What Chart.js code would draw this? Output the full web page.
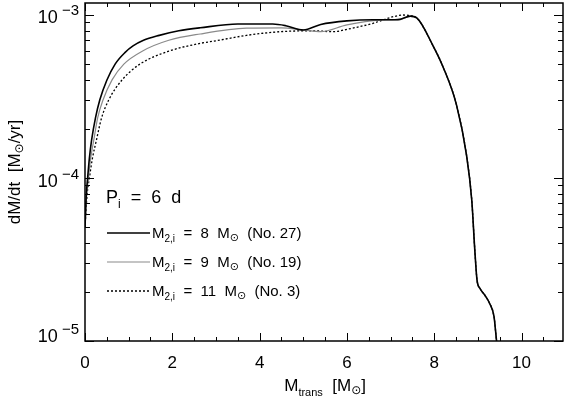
<!DOCTYPE html>
<html>
<head>
<meta charset="utf-8">
<script src="https://cdn.jsdelivr.net/npm/chart.js@4"></script>
<style>
  html, body { margin: 0; padding: 0; background: #fff; }
  #wrap { width: 565px; height: 396px; }
</style>
</head>
<body>
<div id="wrap"><canvas id="c" width="565" height="396"></canvas></div>
<script>
// transferred mass [Msun] and mass transfer rate [Msun/yr]
var mTrans8  = [0, 0.03, 0.06, 0.1, 0.15, 0.24, 0.34, 0.5, 0.69, 0.92, 1.1, 1.34, 1.7, 2.15, 2.64, 3.5, 4.3, 4.6, 5.0, 5.4, 6.0, 6.6, 7.1, 7.22, 7.45, 7.6, 7.97, 8.2, 8.51, 8.74, 8.86, 8.93, 8.98, 9.05, 9.16, 9.27, 9.37, 9.41, 9.43, 9.45];
var mdot8    = [5e-5, 7.9e-5, 1e-4, 1.32e-4, 1.7e-4, 2.34e-4, 3.02e-4, 3.98e-4, 5e-4, 5.9e-4, 6.46e-4, 7e-4, 7.5e-4, 8e-4, 8.35e-4, 8.8e-4, 8.8e-4, 8.6e-4, 8.1e-4, 8.75e-4, 9.2e-4, 9.35e-4, 9.35e-4, 9.4e-4, 9.85e-4, 9.6e-4, 6.5e-4, 4.82e-4, 2.81e-4, 1.38e-4, 7.3e-5, 3.6e-5, 2.37e-5, 2.1e-5, 1.91e-5, 1.7e-5, 1.41e-5, 1.12e-5, 9.9e-6, 9e-6];

var mTrans9  = [0, 0.04, 0.08, 0.13, 0.2, 0.29, 0.41, 0.62, 0.89, 1.31, 1.92, 2.64, 3.7, 4.5, 5.0, 5.4, 6.0, 6.77, 7.22, 7.45, 7.6, 7.97, 8.2, 8.51, 8.74, 8.86, 8.93, 8.98, 9.05, 9.16, 9.27, 9.37, 9.41, 9.43, 9.45];
var mdot9    = [5e-5, 8e-5, 1e-4, 1.32e-4, 1.7e-4, 2.34e-4, 3e-4, 4e-4, 5e-4, 6e-4, 7e-4, 7.65e-4, 8.3e-4, 8.35e-4, 8.1e-4, 7.9e-4, 8.7e-4, 9.3e-4, 9.4e-4, 9.8e-4, 9.6e-4, 6.5e-4, 4.82e-4, 2.81e-4, 1.38e-4, 7.3e-5, 3.6e-5, 2.37e-5, 2.1e-5, 1.91e-5, 1.7e-5, 1.41e-5, 1.12e-5, 9.9e-6, 9e-6];

var mTrans11 = [0, 0.05, 0.1, 0.17, 0.26, 0.38, 0.54, 0.85, 1.26, 1.92, 2.64, 3.0, 3.7, 4.47, 5.23, 5.69, 6.0, 6.6, 7.06, 7.3, 7.45, 7.6, 7.97, 8.2, 8.51, 8.74, 8.86, 8.93, 8.98, 9.05, 9.16, 9.27, 9.37, 9.41, 9.43, 9.46];
var mdot11   = [5e-5, 8e-5, 1e-4, 1.32e-4, 1.7e-4, 2.34e-4, 3e-4, 4e-4, 5e-4, 6e-4, 6.7e-4, 6.95e-4, 7.5e-4, 7.9e-4, 8.0e-4, 7.9e-4, 8.17e-4, 8.9e-4, 9.76e-4, 1.0e-3, 9.9e-4, 9.6e-4, 6.5e-4, 4.82e-4, 2.81e-4, 1.38e-4, 7.3e-5, 3.6e-5, 2.37e-5, 2.1e-5, 1.91e-5, 1.7e-5, 1.41e-5, 1.12e-5, 9.9e-6, 9e-6];

var xTicks = [0, 2, 4, 6, 8, 10];
var yDecades = [-5, -4, -3];

var FONT = "'Liberation Sans', 'DejaVu Sans', sans-serif";

function pts(xs, ys) {
  var out = [];
  for (var i = 0; i < xs.length; i++) out.push({x: xs[i], y: ys[i]});
  return out;
}

// draw a run of text pieces: [text, size, dy]
function rich(ctx, parts, x, y, align) {
  var w = 0;
  parts.forEach(function(p) { ctx.font = p[1] + 'px ' + FONT; w += ctx.measureText(p[0]).width; });
  var cx = align === 'center' ? x - w / 2 : (align === 'right' ? x - w : x);
  ctx.textAlign = 'left';
  ctx.textBaseline = 'alphabetic';
  parts.forEach(function(p) {
    ctx.font = p[1] + 'px ' + FONT;
    ctx.fillText(p[0], cx, y + (p[2] || 0));
    cx += ctx.measureText(p[0]).width;
  });
}

var axesPlugin = {
  id: 'idlAxes',
  afterDraw: function(chart) {
    var ctx = chart.ctx, a = chart.chartArea;
    var xs = chart.scales.x, ys = chart.scales.y;
    ctx.save();
    ctx.strokeStyle = '#000';
    ctx.fillStyle = '#000';
    ctx.lineWidth = 1.5;
    ctx.strokeRect(a.left, a.top, a.right - a.left, a.bottom - a.top);

    // x ticks, inward on bottom and top
    ctx.lineWidth = 1;
    for (var v = 0; v <= xs.max; v += 0.5) {
      var px = Math.round(xs.getPixelForValue(v)) + 0.5;
      var len = (Math.abs(v % 2) < 1e-6) ? 8 : 4;
      ctx.beginPath();
      ctx.moveTo(px, a.bottom); ctx.lineTo(px, a.bottom - len);
      ctx.moveTo(px, a.top); ctx.lineTo(px, a.top + len);
      ctx.stroke();
    }
    // y ticks, log decades and minors
    yDecades.forEach(function(d) {
      for (var k = 1; k <= 9; k++) {
        var val = k * Math.pow(10, d);
        if (val > ys.max || val < ys.min) continue;
        var py = Math.round(ys.getPixelForValue(val)) + 0.5;
        var len = k === 1 ? 9 : 5;
        ctx.beginPath();
        ctx.moveTo(a.left, py); ctx.lineTo(a.left + len, py);
        ctx.moveTo(a.right, py); ctx.lineTo(a.right - len, py);
        ctx.stroke();
      }
    });

    // x tick labels
    ctx.textAlign = 'center';
    ctx.textBaseline = 'alphabetic';
    ctx.font = '17px ' + FONT;
    xTicks.forEach(function(t) {
      ctx.fillText(String(t), xs.getPixelForValue(t), a.bottom + 27);
    });

    // y tick labels 10^n
    var yOff = {'-5': 1, '-4': 9, '-3': 8};
    yDecades.forEach(function(d) {
      var py = ys.getPixelForValue(Math.pow(10, d));
      rich(ctx, [['10', 18, 0], [' \u2212', 15, -8], [String(-d), 15, -8]], 79, py + yOff[d], 'right');
    });

    // axis titles
    rich(ctx, [['M', 17, 0], ['trans', 11, 5], ['  [M', 17, 0], ['\u2299', 12, 3], [']', 17, 0]],
         xs.getPixelForValue(5.5), 391, 'center');
    ctx.save();
    ctx.translate(20, 172);
    ctx.rotate(-Math.PI / 2);
    rich(ctx, [['dM/dt  [M', 17, 0], ['\u2299', 12, 3], ['/yr]', 17, 0]], 0, 0, 'center');
    ctx.restore();

    // in-plot key
    rich(ctx, [['P', 18, 0], ['i', 12, 5], ['  =  6  d', 18, 0]], 106, 203);
    var keys = chart.data.datasets;
    var rowY = [233, 262, 291];
    keys.forEach(function(ds, i) {
      ctx.save();
      ctx.strokeStyle = ds.borderColor;
      ctx.lineWidth = ds.borderWidth;
      ctx.setLineDash(ds.borderDash || []);
      ctx.beginPath();
      ctx.moveTo(107, rowY[i]); ctx.lineTo(150, rowY[i]);
      ctx.stroke();
      ctx.restore();
      rich(ctx, [['M', 15, 0], ['2,i', 10, 4], ['  =  ' + ds.keyMass + '  M', 15, 0], ['\u2299', 11, 3],
                 ['  (No. ' + ds.keyNo + ')', 15, 0]], 152, rowY[i] + 5);
    });
    ctx.restore();
  }
};

new Chart(document.getElementById('c'), {
  type: 'line',
  data: {
    datasets: [{
      label: 'M2,i = 8 Msun (No. 27)', keyMass: '8', keyNo: '27',
      data: pts(mTrans8, mdot8),
      borderColor: '#000', borderWidth: 1.6
    }, {
      label: 'M2,i = 9 Msun (No. 19)', keyMass: '9', keyNo: '19',
      data: pts(mTrans9, mdot9),
      borderColor: '#8a8a8a', borderWidth: 1.2
    }, {
      label: 'M2,i = 11 Msun (No. 3)', keyMass: '11', keyNo: '3',
      data: pts(mTrans11, mdot11),
      borderColor: '#000', borderWidth: 1.3, borderDash: [2, 2]
    }]
  },
  options: {
    responsive: false,
    devicePixelRatio: 1,
    animation: false,
    layout: { padding: { left: 85, right: 2, top: 3, bottom: 55 } },
    elements: {
      point: { radius: 0 },
      line: { cubicInterpolationMode: 'monotone', fill: false }
    },
    scales: {
      x: { type: 'linear', min: 0, max: 10.95, display: false },
      y: { type: 'logarithmic', min: 1e-5, max: 1.185e-3, display: false }
    },
    plugins: {
      legend: { display: false },
      tooltip: { enabled: false }
    }
  },
  plugins: [axesPlugin]
});
</script>
</body>
</html>
